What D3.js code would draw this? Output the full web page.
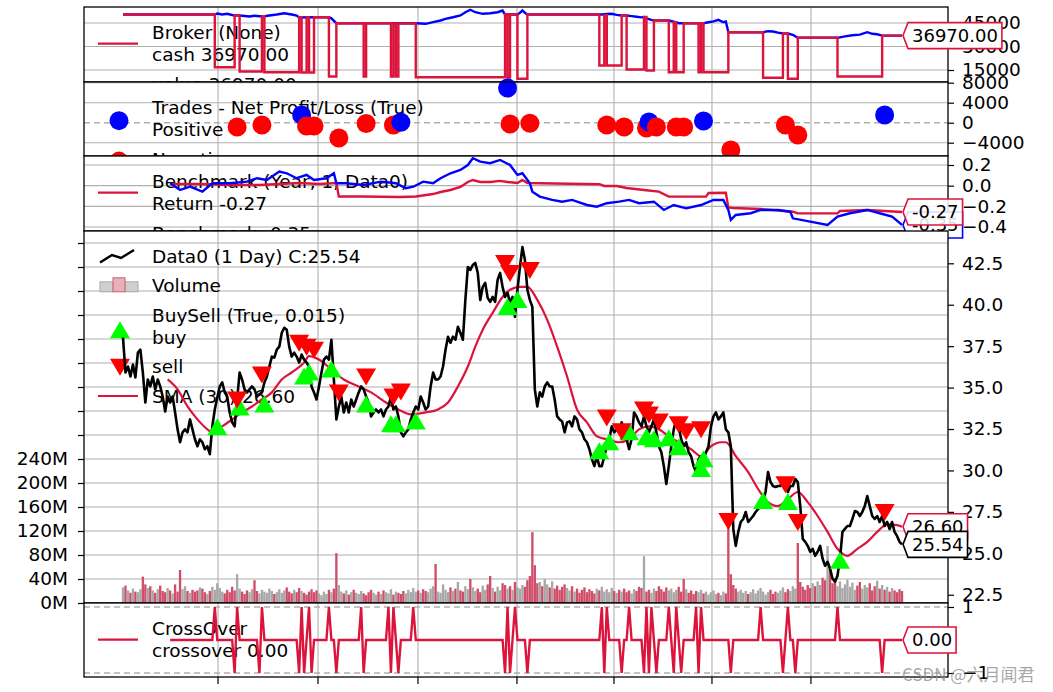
<!DOCTYPE html>
<html><head><meta charset="utf-8">
<script src="https://cdn.jsdelivr.net/npm/d3@7"></script>
<style>
body{margin:0;background:#fff;}
svg{display:block;}
</style></head><body>
<svg id="chart" width="1053" height="692"></svg>
<script>
// ---------------- DATA ----------------
const close = [38.01,35.91,36.27,35.67,36.39,35.61,37.11,37.29,35.91,34.10,35.49,35.07,35.67,34.89,35.49,35.07,34.46,33.56,34.46,34.10,34.46,33.50,32.48,31.70,32.30,32.48,32.30,33.08,32.48,31.88,31.46,31.88,31.70,31.28,31.46,30.98,32.66,33.68,34.40,35.07,35.31,34.71,34.46,33.50,32.90,32.66,34.28,35.91,35.49,34.89,34.71,34.90,35.07,34.89,34.46,34.60,34.71,35.31,35.67,36.27,36.87,36.81,37.29,37.47,38.31,38.61,38.49,37.47,36.87,37.11,36.87,36.51,36.99,36.69,36.51,
36.27,35.07,34.71,34.28,35.07,35.91,36.69,36.87,36.69,37.89,35.49,33.08,33.86,34.46,33.50,34.10,33.50,34.28,33.86,34.28,34.71,35.07,34.89,34.46,34.10,33.26,33.50,33.68,33.50,33.68,33.26,33.68,33.86,34.46,33.68,33.86,33.26,32.30,32.06,32.30,32.48,33.08,33.50,33.86,33.68,34.46,34.10,33.68,33.86,35.07,35.91,35.49,35.49,35.67,36.27,37.29,38.07,37.71,38.07,37.89,38.67,38.31,37.89,40.29,42.28,42.10,42.40,42.52,41.92,40.29,41.08,41.32,40.41,40.17,40.47,40.17,41.50,41.92,41.08,40.47,
40.72,40.11,40.47,39.27,40.90,42.28,43.48,42.70,40.90,40.29,39.87,34.89,33.86,34.71,34.46,35.07,35.31,35.07,35.07,34.28,33.26,33.08,32.96,32.30,32.90,32.96,32.66,33.26,33.08,32.48,32.30,31.88,31.70,31.28,30.68,30.26,30.86,30.26,30.26,30.86,31.46,31.88,32.66,32.30,32.48,32.30,32.90,32.48,31.88,31.28,31.88,33.50,33.26,32.90,32.66,33.26,32.66,32.30,32.66,33.08,32.30,31.46,31.10,30.26,29.18,30.26,31.46,32.48,33.08,32.66,31.88,31.46,31.70,31.10,30.86,30.26,29.90,30.68,30.86,30.68,31.10,
31.46,32.66,33.26,33.50,33.08,33.26,33.50,32.48,32.30,31.46,26.47,25.45,26.29,26.89,27.07,27.49,26.89,27.07,27.25,27.49,27.67,27.85,28.09,28.70,29.90,29.30,29.06,29.00,29.06,29.06,29.48,29.06,28.70,29.06,29.06,29.48,29.30,27.85,25.87,25.69,25.45,25.09,25.27,24.85,25.09,25.45,24.67,24.25,24.49,24.07,23.47,23.29,23.65,24.67,26.29,26.47,26.65,26.65,27.07,27.55,27.49,27.25,27.49,27.85,28.45,27.85,27.25,27.07,27.25,26.89,27.25,26.65,26.89,26.47,26.89,26.29,26.05,25.69,25.54];

// volume in millions
const volume = [26,29,21,17,24,19,18,23,44,31,25,28,21,17,23,29,20,18,25,21,
16,31,19,55,23,28,20,17,22,19,21,26,24,18,15,20,27,22,33,25,
19,16,22,18,27,21,48,24,19,15,21,18,23,38,20,16,22,19,17,24,
20,15,18,23,17,21,26,19,16,22,18,25,20,17,14,19,23,18,21,16,
13,19,15,22,18,24,83,30,19,16,21,14,18,22,17,15,20,16,13,18,
22,17,14,19,15,21,18,16,23,14,19,17,15,20,16,22,18,25,19,21,
17,23,20,18,24,28,65,19,17,31,22,18,26,20,24,35,21,19,28,23,
40,26,20,24,18,29,22,31,45,25,19,27,21,33,30,24,28,22,35,26,
24,30,27,38,45,118,63,33,35,28,40,31,26,36,24,29,22,27,31,25,
21,28,19,24,17,22,26,18,23,20,16,24,21,27,19,23,18,25,20,17,
22,19,24,18,21,16,23,20,27,25,78,19,22,17,24,20,28,23,19,26,
21,24,18,22,27,19,40,23,17,21,15,20,18,22,16,19,14,18,21,15,
17,13,19,16,140,48,30,24,19,22,17,20,15,18,23,16,21,25,19,14,
18,22,15,19,17,21,26,18,23,20,28,24,100,35,27,22,30,25,33,28,
36,30,42,38,95,60,33,41,28,36,25,31,39,27,34,22,29,35,24,30,
26,33,21,28,37,24,30,22,27,19,25,21,18,23,20];

// SMA(30) readings [bar, value]
const smaPts = [[18,35.49],[22,34.89],[26,33.86],[30,33.08],[34,32.48],[36,32.30],[40,32.66],[44,33.08],[48,33.50],[52,33.86],[56,34.28],[60,34.71],[64,35.49],[68,35.91],[73,36.51],[75,36.9],[79,36.69],[84,36.09],[89,35.49],[95,35.07],[100,34.71],[106,34.10],[111,33.68],[116,33.38],[122,33.50],[127,33.68],[131,34.10],[135,35.07],[139,36.27],[142,37.47],[145,38.49],[149,39.51],[153,40.47],[156,40.90],[160,41.08],[163,41.08],[167,40.29],[171,39.09],[175,37.47],[179,35.67],[183,33.68],[187,32.90],[191,32.06],[195,31.88],[200,31.70],[204,31.88],[208,32.48],[212,32.66],[216,32.48],[220,32.06],[224,31.70],[229,31.28],[233,30.86],[237,31.46],[241,31.70],[243,31.70],[247,30.86],[252,29.90],[256,28.88],[260,28.09],[264,27.85],[268,28.27],[272,28.70],[276,28.09],[280,27.25],[284,26.29],[288,25.27],[292,24.85],[296,25.27],[300,25.69],[304,26.29],[308,26.75],[312,26.70],[314,26.60]];

const buyIdx = [38,47,57,73,75,84,98,108,110,118,155,159,192,196,204,211,214,220,224,233,234,258,268,289];
const buyPx  = [32.60,33.80,33.98,35.67,35.91,36.09,33.98,32.78,32.78,32.96,39.87,40.29,31.16,31.70,32.30,32.00,31.88,31.94,31.40,30.08,30.68,28.15,28.09,24.55];
const sellIdx = [46,56,71,74,77,87,98,109,112,154,156,164,195,201,210,212,216,224,227,233,244,267,272,307];
const sellPx  = [34.28,35.79,37.71,37.47,37.29,34.71,35.67,34.46,34.76,42.52,41.92,42.10,33.20,32.36,33.68,33.38,32.96,32.78,32.36,32.48,26.95,29.17,26.89,27.49];

const tradeIdx = [46,56,72,74,77,87,98,109,112,155,156,164,195,202,211,212,215,223,226,234,245,267,272,307];
const tradePnl = [-860,-460,1540,-660,-660,-3060,-150,-460,80,6940,-260,-100,-460,-860,-1060,140,-860,-860,-860,340,-5460,-460,-2460,1540];

const cashSteps = [[0,50400],[37,16800],[45,49800],[47,14000],[56,49300],[57,13600],[71,48500],[72,13400],[74,48500],[75,13400],[77,48700],[83,10850],[86,44870],[97,10850],[98,44870],[108,10850],[109,44700],[110,10850],[111,44700],[118,10400],[154,50400],[155,10200],[156,50400],[159,9400],[163,50400],[192,17870],[194,50000],[195,17870],[201,49790],[203,15300],[210,48830],[211,14680],[214,46600],[220,13600],[222,45500],[223,13600],[226,44870],[232,13600],[233,44870],[234,13600],[244,39130],[258,10020],[266,38300],[268,9380],[272,35550],[288,10850],[306,36970],[314,36970]];
const valuePts = [[0,50400],[37,50400],[38,51060],[40,50430],[42,50870],[44,50100],[45,49790],[47,49790],[49,49470],[51,49150],[53,49600],[55,49340],[56,49300],[57,49300],[59,49790],[62,50425],[65,51250],[68,50425],[70,49790],[71,48500],[77,48700],[83,48700],[84,48000],[86,44870],[118,44870],[122,44490],[125,45510],[128,46600],[130,47680],[133,48700],[136,49790],[138,51890],[140,53430],[142,51890],[145,50870],[148,51250],[151,51890],[153,52980],[154,50400],[159,50400],[160,51500],[161,52980],[162,51500],[163,50400],[193,50400],[195,50700],[197,50900],[199,50200],[201,49790],[203,49790],[205,49400],[207,49000],[209,48600],[210,48830],[211,48000],[212,47500],[213,47000],[214,46600],[220,46600],[222,45800],[224,44870],[234,44870],[236,45500],[238,46000],[240,47040],[242,45500],[243,46000],[244,39130],[258,39130],[260,39770],[262,39600],[264,38900],[266,38300],[268,38300],[270,37500],[272,35550],[288,35550],[291,36500],[294,37200],[297,37600],[300,39130],[302,38110],[304,37800],[306,36970],[314,36970]];

const benchReturn = [[19,0.016],[31,0.016],[43,0.007],[55,0.007],[71,0.026],[79,0.016],[86,0.026],[87,-0.105],[96,-0.105],[112,-0.110],[118,-0.105],[125,-0.081],[128,-0.061],[132,-0.042],[136,-0.013],[139,0.036],[141,0.055],[144,0.036],[148,0.036],[152,0.046],[155,0.036],[159,0.026],[161,0.055],[163,0.026],[168,0.023],[192,0.014],[194,-0.003],[199,-0.003],[203,-0.022],[210,-0.042],[216,-0.058],[220,-0.106],[235,-0.106],[236,-0.071],[243,-0.068],[244,-0.210],[246,-0.216],[257,-0.226],[270,-0.252],[272,-0.268],[288,-0.268],[289,-0.245],[300,-0.235],[314,-0.255]];
const benchData = [[19,0.023],[23,-0.042],[27,-0.010],[32,-0.058],[36,0.023],[43,0.023],[50,0.039],[54,0.072],[58,0.055],[63,0.136],[66,0.120],[70,0.072],[74,0.104],[77,0.055],[82,0.072],[85,0.120],[86,0.023],[90,0.023],[97,0.007],[104,0.039],[110,0.023],[114,-0.025],[117,-0.010],[121,0.039],[125,0.023],[128,0.072],[132,0.120],[136,0.152],[139,0.200],[141,0.265],[144,0.232],[148,0.217],[152,0.249],[156,0.200],[159,0.104],[161,0.120],[164,0.023],[165,-0.058],[168,-0.106],[173,-0.138],[177,-0.155],[181,-0.138],[187,-0.187],[191,-0.203],[195,-0.170],[200,-0.155],[204,-0.138],[208,-0.170],[214,-0.155],[218,-0.235],[222,-0.187],[227,-0.219],[233,-0.187],[238,-0.138],[242,-0.138],[244,-0.235],[245,-0.332],[247,-0.284],[253,-0.267],[257,-0.235],[264,-0.235],[269,-0.252],[270,-0.316],[277,-0.348],[284,-0.380],[288,-0.300],[293,-0.267],[300,-0.235],[305,-0.267],[310,-0.300],[314,-0.380]];

const crossStart = 19;
const crossUp = [37,46,56,72,75,83,96,107,109,117,155,158,193,195,204,211,213,220,223,231,233,257,268,288];
const crossDown = [45,55,71,73,76,86,97,108,111,154,156,163,194,201,210,212,215,222,225,232,245,266,271,306];

const xTickIdx = [38.3,78.6,118.9,158.8,197.9,237.4,277.3];
const brokerTicks = [15000,30000,45000];
const tradeTicks = [-4000,0,4000,8000];
const benchTicks = [-0.4,-0.2,0.0,0.2];
const priceTicks = [22.5,25.0,27.5,30.0,32.5,35.0,37.5,40.0,42.5];
const volTicks = [0,40,80,120,160,200,240,280,320,360,400,440,480,520,560,600];
const crossTicks = [-1,1];

const brokerLegend = ['Broker (None)','cash 36970.00','value 36970.00'];
const tradesLegend = ['Trades - Net Profit/Loss (True)','Positive','Negative'];
const benchLegend = ['Benchmark (Year, 1, Data0)','Return -0.27','Benchmark -0.35'];
const mainLegend = ['Data0 (1 Day) C:25.54','Volume','BuySell (True, 0.015)','buy','sell','SMA (30) 26.60'];
const crossLegend = ['CrossOver','crossover 0.00'];
const tagText = ['36970.00','-0.27','-0.35','26.60','25.54','0.00'];
const watermark = 'CSDN @六月闻君';

// ---------------- DRAWING ----------------
const FONT = '"DejaVu Sans", sans-serif';
const FS = 18.5;
const CRIMSON = '#dc143c';
const BLUE = '#0000ff';
const svg = d3.select('#chart').attr('font-family', FONT);
const L = 84, R = 948;
const N = close.length;
const x = d3.scaleLinear().domain([0, N - 1]).range([123, 902]);

function panelBase(top, bot) {
  const g = svg.append('g');
  g.append('rect').attr('x', L).attr('y', top).attr('width', R - L).attr('height', bot - top).attr('fill', '#fff');
  g.selectAll('line.vg').data(xTickIdx).join('line').attr('class', 'vg')
    .attr('x1', d => x(d)).attr('x2', d => x(d)).attr('y1', top).attr('y2', bot)
    .attr('stroke', '#b0b0b0').attr('stroke-width', 1.1);
  return g;
}
function hGrid(g, y, vals, dash) {
  g.selectAll(null).data(vals).join('line')
    .attr('x1', L).attr('x2', R).attr('y1', d => y(d)).attr('y2', d => y(d))
    .attr('stroke', '#b0b0b0').attr('stroke-width', dash ? 1.6 : 1.1)
    .attr('stroke-dasharray', dash ? '6,4' : null);
}
function frame(g, top, bot) {
  g.append('rect').attr('x', L).attr('y', top).attr('width', R - L).attr('height', bot - top)
    .attr('fill', 'none').attr('stroke', '#000').attr('stroke-width', 1.3);
}
function rightAxis(g, y, vals, fmt) {
  const ax = g.append('g').attr('transform', `translate(${R},0)`)
    .call(d3.axisRight(y).tickValues(vals).tickFormat(fmt).tickSize(6).tickPadding(8));
  ax.select('.domain').remove();
  ax.attr('font-size', FS).attr('font-family', FONT);
  ax.selectAll('line').attr('stroke', '#000').attr('stroke-width', 1.2);
  ax.selectAll('text').attr('fill', '#000');
}
function legend(g, top, labels, groups) {
  let cy = top + 25.5, k = 0;
  groups.forEach(([n, handle]) => {
    const first = cy;
    for (let j = 0; j < n; j++) {
      g.append('text').attr('x', 152).attr('y', cy).attr('dy', '0.36em')
        .attr('font-size', FS).attr('fill', '#000').text(labels[k++]);
      if (j < n - 1) cy += 22.3;
    }
    handle(g, (first + cy) / 2);
    cy += 29.3;
  });
}
const lineHandle = c => (g, cy) => g.append('line').attr('x1', 98).attr('x2', 138).attr('y1', cy).attr('y2', cy).attr('stroke', c).attr('stroke-width', 2.2);
const dotHandle = c => (g, cy) => g.append('circle').attr('cx', 119).attr('cy', cy + 2).attr('r', 9.5).attr('fill', c);
const triUp = 'M0,-9L10,8L-10,8Z', triDown = 'M0,9L10,-8L-10,-8Z';
const triHandle = (p, c, dy) => (g, cy) => g.append('path').attr('d', p).attr('fill', c).attr('transform', `translate(120,${cy + dy})`);

function tag(g, yy, txt, color, op) {
  const tx = x(N - 1) + 1;
  const t = g.append('text').attr('x', tx + 9).attr('y', yy).attr('dy', '0.36em')
    .attr('font-size', 18).attr('fill', '#000').text(txt);
  const w = t.node().getComputedTextLength();
  const left = tx + 5, right = tx + 5 + w + 8, h = 13;
  g.insert('path', () => t.node())
    .attr('d', `M${tx},${yy}L${left},${yy - h}L${right},${yy - h}L${right},${yy + h}L${left},${yy + h}Z`)
    .attr('fill', '#fff').attr('fill-opacity', op).attr('stroke', color).attr('stroke-width', 1.6);
}

// ---- Broker panel ----
{
  const [top, bot] = [7, 82];
  const g = panelBase(top, bot);
  const y = d3.scaleLinear().domain([15000, 45000]).range([70, 23]);
  hGrid(g, y, brokerTicks);
  legend(g, top, brokerLegend, [[2, lineHandle(CRIMSON)], [1, lineHandle(BLUE)]]);
  g.append('path').datum(valuePts).attr('fill', 'none').attr('stroke', BLUE).attr('stroke-width', 2.4)
    .attr('d', d3.line().x(d => x(d[0])).y(d => y(d[1])));
  g.append('path').datum(cashSteps).attr('fill', 'none').attr('stroke', CRIMSON).attr('stroke-width', 2.4)
    .attr('d', d3.line().curve(d3.curveStepAfter).x(d => x(d[0])).y(d => y(d[1])));
  frame(g, top, bot);
  rightAxis(g, y, brokerTicks, d => String(d));
  tag(g, y(36970), tagText[0], CRIMSON, 1);
}
// ---- Trades panel ----
{
  const [top, bot] = [82, 156];
  const g = panelBase(top, bot);
  const y = d3.scaleLinear().domain([-4000, 4000]).range([142.7, 102.7]);
  hGrid(g, y, tradeTicks.filter(d => d !== 0));
  hGrid(g, y, [0], true);
  legend(g, top, tradesLegend, [[2, dotHandle(BLUE)], [1, dotHandle('#ff0000')]]);
  g.selectAll(null).data(tradeIdx).join('circle')
    .attr('cx', d => x(d)).attr('cy', (d, i) => y(tradePnl[i])).attr('r', 9.5)
    .attr('fill', (d, i) => tradePnl[i] >= 0 ? BLUE : '#ff0000');
  frame(g, top, bot);
  rightAxis(g, y, tradeTicks, d => d < 0 ? '\u2212' + Math.abs(d) : String(d));
}
// ---- Benchmark panel ----
{
  const [top, bot] = [156, 231];
  const g = panelBase(top, bot);
  const y = d3.scaleLinear().domain([-0.4, 0.2]).range([227, 165]);
  hGrid(g, y, benchTicks);
  legend(g, top, benchLegend, [[2, lineHandle(CRIMSON)], [1, lineHandle(BLUE)]]);
  const ln = d3.line().x(d => x(d[0])).y(d => y(d[1]));
  g.append('path').datum(benchReturn).attr('fill', 'none').attr('stroke', CRIMSON).attr('stroke-width', 2.4).attr('d', ln);
  g.append('path').datum(benchData).attr('fill', 'none').attr('stroke', BLUE).attr('stroke-width', 2.4).attr('d', ln);
  frame(g, top, bot);
  rightAxis(g, y, benchTicks, d => (d < 0 ? '\u2212' : '') + Math.abs(d).toFixed(1));
  tag(g, y(benchData[benchData.length - 1][1]), tagText[2], BLUE, 1);
  tag(g, y(benchReturn[benchReturn.length - 1][1]), tagText[1], CRIMSON, 0.85);
}
// ---- Main panel ----
{
  const [top, bot] = [231, 603];
  const g = panelBase(top, bot);
  const yP = d3.scaleLinear().domain([25, 42.5]).range([553.3, 263.3]);
  const yV = d3.scaleLinear().domain([0, 40]).range([603, 579]);
  hGrid(g, yV, volTicks);
  legend(g, top, mainLegend, [
    [1, (gg, cy) => gg.append('path').attr('d', d3.line()([[100, cy + 6], [112, cy - 1.5], [121, cy + 1.5], [134, cy - 6.5]]))
        .attr('fill', 'none').attr('stroke', '#000').attr('stroke-width', 2.4)],
    [1, (gg, cy) => {
        gg.append('rect').attr('x', 100).attr('y', cy - 4).attr('width', 13).attr('height', 10).attr('fill', '#cfcfcf').attr('stroke', '#aaa');
        gg.append('rect').attr('x', 125).attr('y', cy - 4).attr('width', 13).attr('height', 10).attr('fill', '#cfcfcf').attr('stroke', '#aaa');
        gg.append('rect').attr('x', 113).attr('y', cy - 8).attr('width', 12).attr('height', 14).attr('fill', '#e8b0bb').attr('stroke', '#cc6073');
      }],
    [2, triHandle(triUp, '#00ff00', 4)],
    [1, triHandle(triDown, '#ff0000', 0)],
    [1, lineHandle(CRIMSON)]
  ]);
  const bw = (x(1) - x(0)) * 0.95;
  g.selectAll(null).data(volume).join('rect')
    .attr('x', (d, i) => x(i) - bw / 2).attr('width', bw)
    .attr('y', d => yV(d)).attr('height', d => yV(0) - yV(d))
    .attr('fill', (d, i) => (i > 0 && close[i] < close[i - 1]) ? '#cf4f6a' : '#a8a8a8');
  g.append('path').datum(smaPts).attr('fill', 'none').attr('stroke', CRIMSON).attr('stroke-width', 2.2)
    .attr('d', d3.line().curve(d3.curveMonotoneX).x(d => x(d[0])).y(d => yP(d[1])));
  g.append('path').datum(close).attr('fill', 'none').attr('stroke', '#000').attr('stroke-width', 2.6)
    .attr('stroke-linejoin', 'round').attr('d', d3.line().x((d, i) => x(i)).y(d => yP(d)));
  g.selectAll(null).data(buyIdx).join('path').attr('d', triUp).attr('fill', '#00ff00')
    .attr('transform', (d, i) => `translate(${x(d)},${yP(buyPx[i])})`);
  g.selectAll(null).data(sellIdx).join('path').attr('d', triDown).attr('fill', '#ff0000')
    .attr('transform', (d, i) => `translate(${x(d)},${yP(sellPx[i])})`);
  frame(g, top, bot);
  rightAxis(g, yP, priceTicks, d => d.toFixed(1));
  const axL = g.append('g').attr('transform', `translate(${L},0)`)
    .call(d3.axisLeft(yV).tickValues(volTicks).tickFormat(d => d <= 240 ? d + 'M' : '').tickSize(6).tickPadding(10));
  axL.select('.domain').remove();
  axL.attr('font-size', FS).attr('font-family', FONT);
  axL.selectAll('line').attr('stroke', '#000').attr('stroke-width', 1.2);
  axL.selectAll('text').attr('fill', '#000');
  tag(g, yP(smaPts[smaPts.length - 1][1]), tagText[3], CRIMSON, 1);
  tag(g, yP(close[N - 1]), tagText[4], '#000', 1);
}
// ---- CrossOver panel ----
{
  const [top, bot] = [603, 677];
  const g = panelBase(top, bot);
  const y = d3.scaleLinear().domain([-1, 1]).range([673, 607]);
  hGrid(g, y, crossTicks, true);
  legend(g, top, crossLegend, [[2, lineHandle(CRIMSON)]]);
  const cs = d3.range(crossStart, N).map(i => [i, crossUp.includes(i) ? 1 : (crossDown.includes(i) ? -1 : 0)]);
  g.append('path').datum(cs).attr('fill', 'none').attr('stroke', CRIMSON).attr('stroke-width', 2.4)
    .attr('d', d3.line().x(d => x(d[0])).y(d => y(d[1])));
  frame(g, top, bot);
  rightAxis(g, y, crossTicks, d => d < 0 ? '\u22121' : '1');
  g.selectAll(null).data(xTickIdx).join('line')
    .attr('x1', d => x(d)).attr('x2', d => x(d)).attr('y1', bot).attr('y2', bot + 7)
    .attr('stroke', '#000').attr('stroke-width', 1.2);
  tag(g, y(0), tagText[5], CRIMSON, 1);
}
svg.append('text').attr('x', 902).attr('y', 675).attr('dy', '0.36em')
  .attr('font-family', '"Noto Sans CJK SC", sans-serif').attr('font-size', 17)
  .attr('fill', '#8a8a8a').attr('fill-opacity', 0.75).text(watermark);
</script>
</body></html>
